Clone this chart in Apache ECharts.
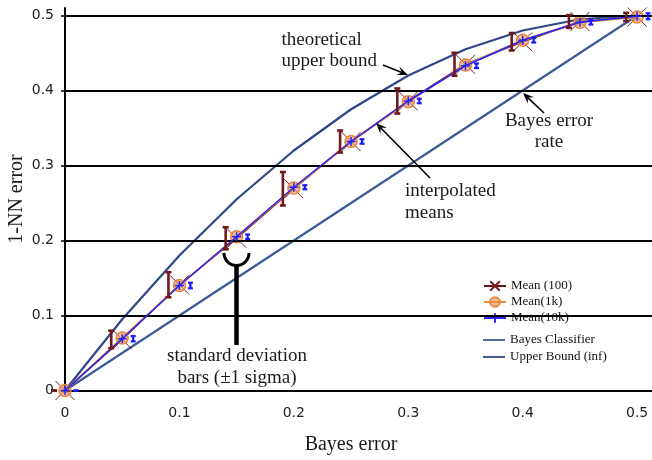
<!DOCTYPE html>
<html><head><meta charset="utf-8">
<script src="https://cdn.jsdelivr.net/npm/echarts@6/dist/echarts.min.js"></script>
<style>html,body{margin:0;padding:0;background:#fff}#c{width:652px;height:460px}</style>
</head><body><div id="c"></div>
<script>
const bayesError = [0, 0.05, 0.1, 0.15, 0.2, 0.25, 0.3, 0.35, 0.4, 0.45, 0.5];
const bayesClassifier = [0, 0.05, 0.1, 0.15, 0.2, 0.25, 0.3, 0.35, 0.4, 0.45, 0.5];
const upperBound = [0, 0.095, 0.18, 0.255, 0.32, 0.375, 0.42, 0.455, 0.48, 0.495, 0.5];
const mean100 = [0, 0.068, 0.141, 0.203, 0.269, 0.332, 0.386, 0.435, 0.465, 0.492, 0.498];
const sd100 = [0, 0.0117, 0.0167, 0.0147, 0.0223, 0.0147, 0.0167, 0.0153, 0.0116, 0.0085, 0.0055];
const mean1k = [0, 0.070, 0.140, 0.205, 0.270, 0.332, 0.385, 0.434, 0.467, 0.491, 0.498];
const mean10k = [0, 0.069, 0.140, 0.205, 0.271, 0.332, 0.386, 0.433, 0.467, 0.491, 0.499];
const sd10k = [0, 0.0035, 0.0037, 0.003, 0.0027, 0.003, 0.003, 0.003, 0.003, 0.003, 0.004];
const xTicks = [0, 0.1, 0.2, 0.3, 0.4, 0.5];
const yTicks = [0, 0.1, 0.2, 0.3, 0.4, 0.5];
const gridLevels = [0.1, 0.2, 0.3, 0.4, 0.5];
const xLabel = 'Bayes error';
const yLabel = '1-NN error';

const pairs = ys => bayesError.map((x, i) => [x, ys[i]]);
const bars = (m, s) => bayesError.map((x, i) => [x, m[i] - s[i], m[i] + s[i]]);
const tickFmt = ticks => v => ticks.some(t => Math.abs(t - v) < 1e-9) ? String(+v.toFixed(2)) : '';

function errorBar(color, dx, capHalf, width) {
  return function (params, api) {
    const x = api.value(0) + dx;
    const lo = api.coord([x, api.value(1)]);
    const hi = api.coord([x, api.value(2)]);
    const st = { stroke: color, lineWidth: width, fill: null };
    return { type: 'group', children: [
      { type: 'line', shape: { x1: lo[0], y1: lo[1], x2: hi[0], y2: hi[1] }, style: st },
      { type: 'line', shape: { x1: lo[0] - capHalf, y1: lo[1], x2: lo[0] + capHalf, y2: lo[1] }, style: st },
      { type: 'line', shape: { x1: hi[0] - capHalf, y1: hi[1], x2: hi[0] + capHalf, y2: hi[1] }, style: st }
    ]};
  };
}

function arrow(x1, y1, x2, y2) {
  const a = Math.atan2(y2 - y1, x2 - x1), L = 11, W = 4.5;
  const bx = x2 - L * Math.cos(a), by = y2 - L * Math.sin(a);
  const nx = x2 - 0.6 * L * Math.cos(a), ny = y2 - 0.6 * L * Math.sin(a);
  const px = -Math.sin(a) * W, py = Math.cos(a) * W;
  return [
    { type: 'line', z: 100, shape: { x1, y1, x2: nx, y2: ny }, style: { stroke: '#000', lineWidth: 1.6 } },
    { type: 'polygon', z: 100, shape: { points: [[x2, y2], [bx + px, by + py], [nx, ny], [bx - px, by - py]] }, style: { fill: '#000' } }
  ];
}
const SERIF = '"Liberation Serif", "DejaVu Serif", serif';
function txt(x, y, text, align, size) {
  return { type: 'text', z: 100, x, y, style: { text, fontFamily: SERIF, fontSize: size || 19, fill: '#1a1a1a', align: align || 'left', verticalAlign: 'middle' } };
}
const LINE_ICON = 'path://M0,0L22,0L22,1.8L0,1.8Z';

const chart = echarts.init(document.getElementById('c'), null, { renderer: 'canvas' });
chart.setOption({
  animation: false,
  backgroundColor: '#fff',
  grid: { left: 65, right: 0, top: 8, bottom: 69.5 },
  xAxis: {
    type: 'value', min: 0, max: 0.513, interval: 0.1,
    axisLine: { lineStyle: { color: '#000', width: 2 } },
    axisTick: { show: false },
    splitLine: { show: false },
    axisLabel: { customValues: xTicks, formatter: tickFmt(xTicks), margin: 16, fontFamily: 'DejaVu Sans', fontSize: 14, color: '#222' }
  },
  yAxis: {
    type: 'value', min: 0, max: 0.51, interval: 0.1,
    axisLine: { show: true, lineStyle: { color: '#000', width: 2 } },
    axisTick: { show: true, customValues: yTicks, length: 4, lineStyle: { color: '#000', width: 1.5 } },
    splitLine: { show: false },
    axisLabel: { customValues: yTicks, formatter: tickFmt(yTicks), margin: 11, fontFamily: 'DejaVu Sans', fontSize: 14, color: '#222' }
  },
  legend: [
    { orient: 'vertical', left: 483, top: 279.5, padding: 0, itemWidth: 22, itemHeight: 12, itemGap: 3,
      data: ['Mean (100)', 'Mean(1k)', 'Mean(10k)'],
      textStyle: { fontFamily: SERIF, fontSize: 13, color: '#111' } },
    { orient: 'vertical', left: 483, top: 333.5, padding: 0, itemWidth: 22, itemHeight: 12, itemGap: 4,
      data: [{ name: 'Bayes Classifier', icon: LINE_ICON }, { name: 'Upper Bound (inf)', icon: LINE_ICON }],
      textStyle: { fontFamily: SERIF, fontSize: 13, color: '#111' } }
  ],
  series: [
    { name: '_grid', type: 'line', data: [[0, 0]], symbol: 'none', lineStyle: { width: 0 }, silent: true, z: 1,
      markLine: { silent: true, symbol: 'none', label: { show: false },
        lineStyle: { color: '#000', width: 2, type: 'solid' },
        data: gridLevels.map(v => ({ yAxis: v })) } },
    { name: 'Bayes Classifier', type: 'line', data: pairs(bayesClassifier), symbol: 'none', clip: false, z: 2,
      lineStyle: { color: '#3b5c96', width: 2.2 }, itemStyle: { color: '#3b5c96' } },
    { name: 'Upper Bound (inf)', type: 'line', data: pairs(upperBound), symbol: 'none', clip: false, z: 2,
      lineStyle: { color: '#2f4786', width: 2.2 }, itemStyle: { color: '#2f4786' } },
    { name: 'Mean (100)', type: 'line', data: pairs(mean100), clip: false, z: 3,
      symbol: 'path://M0,0L10,10M10,0L0,10', symbolSize: 19,
      lineStyle: { color: '#6b1515', width: 1.6 },
      itemStyle: { color: '#6b1515', borderColor: '#7a2020', borderWidth: 1 } },
    { name: 'Mean(1k)', type: 'line', data: pairs(mean1k), clip: false, z: 4,
      symbol: 'circle', symbolSize: 12,
      lineStyle: { color: '#e8883a', width: 2 },
      itemStyle: { color: 'rgba(236,145,80,0.6)', borderColor: '#e8843a', borderWidth: 1.5 } },
    { name: 'Mean(10k)', type: 'line', data: pairs(mean10k), clip: false, z: 5,
      symbol: 'path://M5,0L5,10M0,5L10,5', symbolSize: 9,
      lineStyle: { color: '#2323ff', width: 1.5 },
      itemStyle: { color: '#2323ff', borderColor: '#2323ff', borderWidth: 1.5 } },
    { name: '_err100', type: 'custom', data: bars(mean100, sd100), clip: false, z: 6,
      renderItem: errorBar('#6e1a1a', -0.0096, 3, 2.6) },
    { name: '_err10k', type: 'custom', data: bars(mean10k, sd10k), clip: false, z: 6,
      renderItem: errorBar('#1a1aff', 0.0096, 2.5, 2.2) }
  ],
  graphic: [
    txt(351, 445, xLabel, 'center', 20),
    { type: 'text', z: 100, x: 17, y: 199, rotation: Math.PI / 2,
      style: { text: yLabel, fontFamily: SERIF, fontSize: 20, fill: '#1a1a1a', align: 'center', verticalAlign: 'middle' } },
    txt(281.5, 40, 'theoretical'),
    txt(281.5, 61, 'upper bound'),
    ...arrow(383, 65, 408, 75),
    txt(549, 121, 'Bayes error', 'center'),
    txt(549, 142, 'rate', 'center'),
    ...arrow(544, 113, 523, 93),
    txt(405, 191, 'interpolated'),
    txt(405, 213, 'means'),
    ...arrow(430, 178, 376, 123),
    txt(237, 356, 'standard deviation', 'center'),
    txt(237, 378, 'bars (±1 sigma)', 'center'),
    { type: 'arc', z: 100, shape: { cx: 236.5, cy: 253, r: 12.5, startAngle: 0, endAngle: Math.PI, clockwise: true },
      style: { stroke: '#000', lineWidth: 3, fill: null } },
    { type: 'line', z: 100, shape: { x1: 236.5, y1: 265, x2: 236.5, y2: 345 }, style: { stroke: '#000', lineWidth: 4.5 } }
  ]
});
</script>
</body></html>
